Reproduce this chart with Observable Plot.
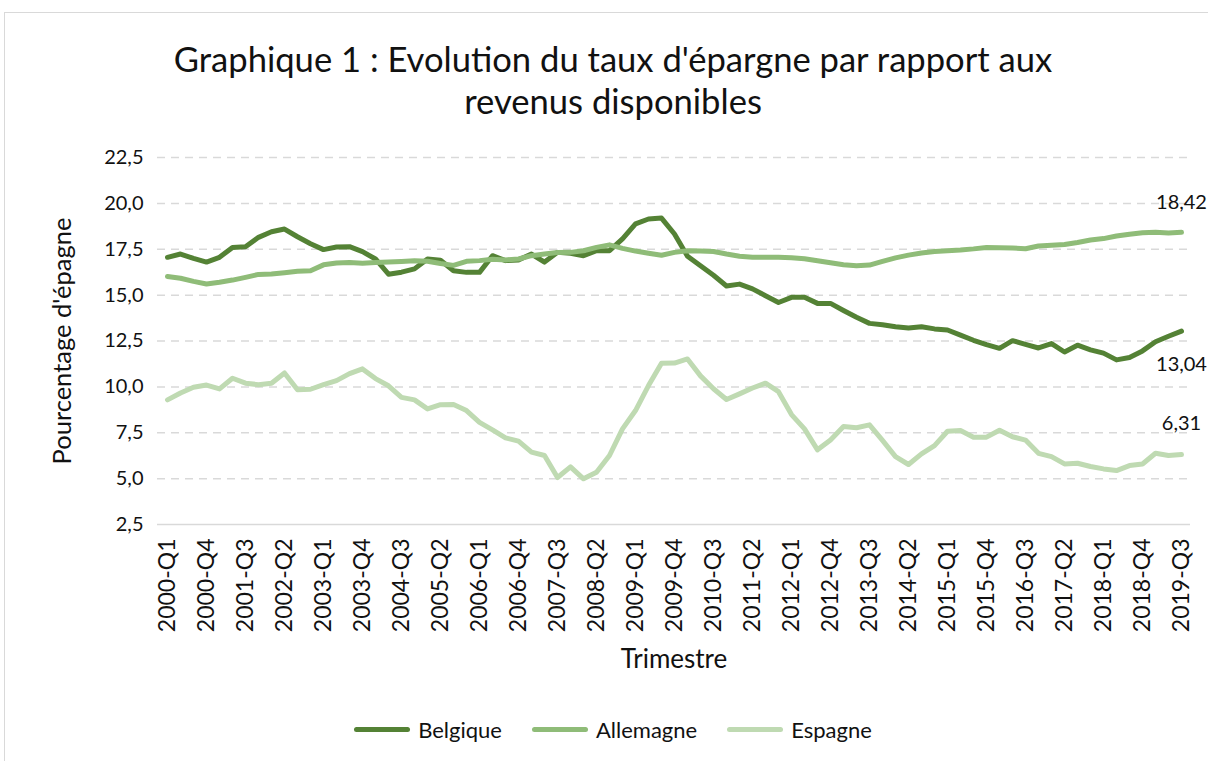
<!DOCTYPE html>
<html>
<head>
<meta charset="utf-8">
<script src="https://cdn.jsdelivr.net/npm/d3@7"></script>
<script src="https://cdn.jsdelivr.net/npm/@observablehq/plot@0.6"></script>
<style>
  body { margin: 0; background: #fff; }
  #root { position: relative; width: 1208px; height: 761px; overflow: hidden; font-family: Lato, sans-serif; color: #111; background: #fff; }
  #frame { position: absolute; left: 4px; top: 12px; width: 1218px; height: 760px; border: 1.5px solid #d9d9d9; box-sizing: border-box; }
  #title { position: absolute; left: 4px; top: 38px; width: 1218px; text-align: center; font-size: 34.6px; line-height: 42px; color: #111; }
  #chart { position: absolute; left: 0; top: 140px; }
  #legend { position: absolute; left: 4px; top: 716px; width: 1218px; display: flex; justify-content: center; align-items: center; gap: 30px; font-size: 22px; color: #111; }
  .item { display: flex; align-items: center; gap: 8px; }
  .sw { width: 56px; height: 5px; border-radius: 3px; }
</style>
</head>
<body>
<div id="root">
  <div id="frame"></div>
  <div id="title">Graphique 1 : Evolution du taux d'épargne par rapport aux<br>revenus disponibles</div>
  <div id="chart"></div>
  <div id="legend"></div>
</div>
<script>
// Categories: quarters 2000-Q1 .. 2019-Q3
const years = d3.range(2000, 2020);
const quarterNames = ["Q1", "Q2", "Q3", "Q4"];
const quarters = years.flatMap(y => quarterNames.map(q => `${y}-${q}`)).slice(0, 79);

const tickLabels = ["2000-Q1","2000-Q4","2001-Q3","2002-Q2","2003-Q1","2003-Q4","2004-Q3","2005-Q2","2006-Q1","2006-Q4","2007-Q3","2008-Q2","2009-Q1","2009-Q4","2010-Q3","2011-Q2","2012-Q1","2012-Q4","2013-Q3","2014-Q2","2015-Q1","2015-Q4","2016-Q3","2017-Q2","2018-Q1","2018-Q4","2019-Q3"];
const yTicks = [2.5, 5, 7.5, 10, 12.5, 15, 17.5, 20, 22.5];

const seriesNames = ["Belgique", "Allemagne", "Espagne"];
const seriesColors = ["#548235", "#8fbc78", "#bfdab2"];

const belgique = [
  17.06, 17.24, 17.0, 16.8, 17.06, 17.6, 17.64, 18.15, 18.45, 18.6,
  18.18, 17.8, 17.48, 17.62, 17.64, 17.37, 16.97, 16.14, 16.25, 16.43,
  16.97, 16.9, 16.33, 16.24, 16.24, 17.15, 16.88, 16.92, 17.24, 16.8,
  17.33, 17.28, 17.15, 17.42, 17.42, 18.06, 18.88, 19.15, 19.2, 18.33,
  17.12, 16.6, 16.08, 15.5, 15.6, 15.34, 14.97, 14.6, 14.88, 14.88,
  14.55, 14.55, 14.16, 13.79, 13.46, 13.39, 13.28, 13.21, 13.28, 13.16,
  13.1, 12.82, 12.54, 12.3, 12.1, 12.52, 12.32, 12.12, 12.36, 11.9,
  12.27, 12.02, 11.84, 11.47, 11.6, 11.96, 12.46, 12.76, 13.04
];
const allemagne = [
  16.02, 15.92, 15.75, 15.61, 15.7, 15.82, 15.97, 16.13, 16.15, 16.22,
  16.3, 16.33, 16.65, 16.75, 16.78, 16.74, 16.78, 16.8, 16.83, 16.87,
  16.85, 16.72, 16.62, 16.84, 16.88, 16.96, 16.92, 16.97, 17.15, 17.24,
  17.32, 17.33, 17.42, 17.6, 17.74, 17.55, 17.4, 17.28, 17.17, 17.33,
  17.42, 17.4, 17.38, 17.24, 17.12, 17.07, 17.06, 17.06, 17.04, 16.98,
  16.87, 16.76, 16.66, 16.6, 16.64, 16.84, 17.03, 17.18, 17.3, 17.38,
  17.42, 17.46, 17.52, 17.6, 17.58, 17.57, 17.53, 17.68, 17.72, 17.76,
  17.87, 18.0, 18.08, 18.22, 18.32, 18.4, 18.42, 18.38, 18.42
];
const espagne = [
  9.29, 9.67, 9.98, 10.1, 9.89, 10.47, 10.2, 10.12, 10.2, 10.76,
  9.84, 9.87, 10.12, 10.34, 10.72, 10.98, 10.45, 10.06, 9.43, 9.29,
  8.8, 9.03, 9.04, 8.71, 8.07, 7.66, 7.22, 7.04, 6.44, 6.26,
  5.06, 5.64, 4.99, 5.35, 6.26, 7.71, 8.71, 10.07, 11.29, 11.3,
  11.52, 10.6, 9.9, 9.31, 9.62, 9.94, 10.2, 9.74, 8.49, 7.71,
  6.57, 7.11, 7.84, 7.77, 7.93, 7.08, 6.2, 5.77, 6.35, 6.8,
  7.58, 7.62, 7.26, 7.26, 7.64, 7.28, 7.1, 6.38, 6.2, 5.8,
  5.84, 5.66, 5.53, 5.44, 5.71, 5.8, 6.38, 6.26, 6.31
];

const seriesValues = [belgique, allemagne, espagne];
const rows = seriesNames.map((s, k) => quarters.map((q, i) => ({ s, q, v: seriesValues[k][i] })));
const lastRows = seriesNames.map((s, k) => ({ s, q: quarters[quarters.length - 1], v: seriesValues[k][quarters.length - 1] }));
const labelDy = [34, -30, -31];
const fmt = (d, n) => d.toFixed(n).replace(".", ",");

const plot = Plot.plot({
  width: 1208,
  height: 540,
  marginLeft: 157,
  marginRight: 18,
  marginTop: 17,
  marginBottom: 156,
  style: { fontFamily: "Lato, sans-serif", fontSize: "20px", color: "#111", background: "transparent", overflow: "visible" },
  x: { type: "point", domain: quarters, padding: 0.5 },
  y: { domain: [2.5, 22.5] },
  marks: [
    Plot.gridY(yTicks.slice(1), { stroke: "#d9d9d9", strokeOpacity: 1, strokeWidth: 1.5, strokeDasharray: "8,6" }),
    Plot.ruleY([2.5], { stroke: "#d9d9d9", strokeWidth: 1.5 }),
    Plot.axisY({ ticks: yTicks, tickSize: 0, tickPadding: 14, tickFormat: d => fmt(d, 1), label: null, fill: "#111", fontSize: 20 }),
    Plot.axisX({ ticks: tickLabels, tickSize: 0, tickRotate: -90, tickPadding: 14, label: null, fill: "#111", fontSize: 23 }),
    ...rows.map((r, k) => Plot.line(r, { x: "q", y: "v", stroke: seriesColors[k], strokeWidth: 5, strokeLinecap: "round", strokeLinejoin: "round" })),
    ...lastRows.map((r, k) => Plot.text([r], { x: "q", y: "v", text: d => fmt(d.v, 2), dy: labelDy[k], fontSize: 20, fill: "#111" })),
    Plot.text(["Pourcentage d'épagne"], { frameAnchor: "left", dx: -95, rotate: -90, textAnchor: "middle", fontSize: 25.5, fill: "#111" }),
    Plot.text(["Trimestre"], { frameAnchor: "bottom", dy: 143, textAnchor: "middle", fontSize: 26, fill: "#111" })
  ]
});
document.getElementById("chart").appendChild(plot);

const legend = document.getElementById("legend");
seriesNames.forEach((s, k) => {
  const item = document.createElement("div");
  item.className = "item";
  const sw = document.createElement("div");
  sw.className = "sw";
  sw.style.background = seriesColors[k];
  const t = document.createElement("span");
  t.textContent = s;
  item.appendChild(sw);
  item.appendChild(t);
  legend.appendChild(item);
});
</script>
</body>
</html>
